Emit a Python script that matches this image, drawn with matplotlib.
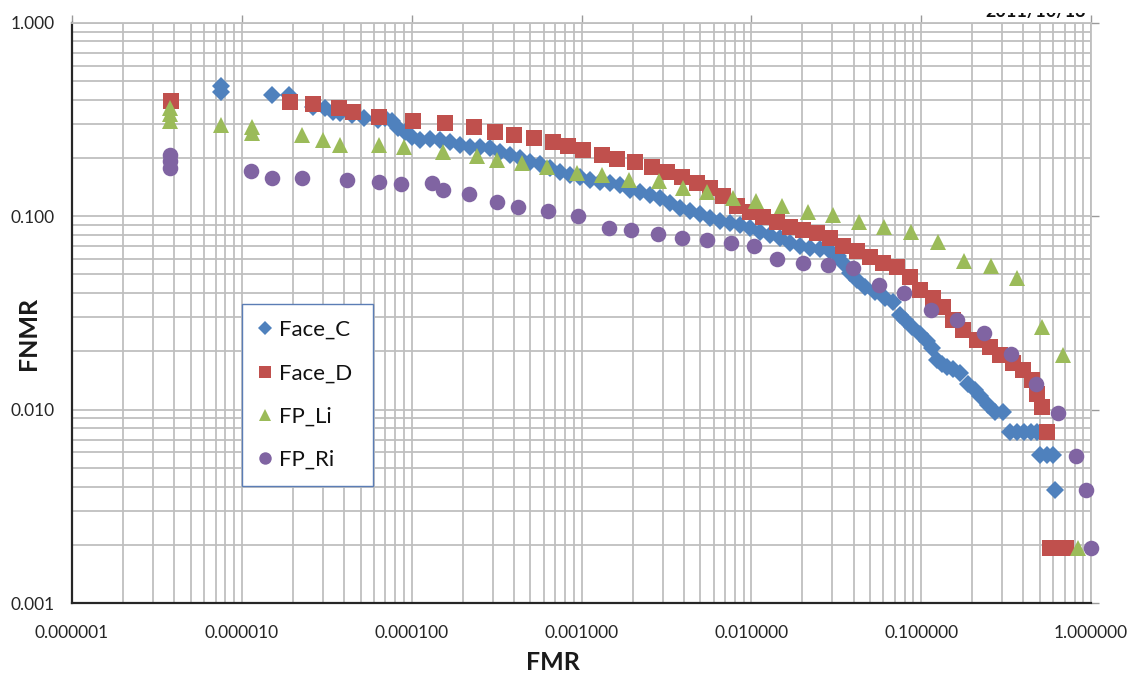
import matplotlib
matplotlib.use("Agg")
import matplotlib.pyplot as plt
from matplotlib.ticker import LogLocator, FixedLocator, FixedFormatter, NullFormatter
from matplotlib.patches import Rectangle

# ---------------- data ----------------
face_c_fmr = [7.54e-6, 7.54e-6, 1.51e-5, 1.90e-5, 2.63e-5, 3.09e-5, 3.44e-5, 3.79e-5, 4.46e-5, 5.25e-5,
              6.34e-5, 6.97e-5, 7.67e-5, 8.32e-5, 9.14e-5, 1.01e-4, 1.12e-4, 1.28e-4, 1.47e-4, 1.68e-4,
              1.93e-4, 2.21e-4, 2.53e-4, 2.89e-4, 3.32e-4, 3.80e-4, 4.35e-4, 4.98e-4, 5.70e-4, 6.53e-4,
              7.48e-4, 8.57e-4, 9.81e-4, 1.12e-3, 1.29e-3, 1.47e-3, 1.69e-3, 1.93e-3, 2.21e-3, 2.54e-3,
              2.90e-3, 3.33e-3, 3.81e-3, 4.36e-3, 4.99e-3, 5.72e-3, 6.55e-3, 7.50e-3, 8.59e-3, 9.84e-3,
              1.13e-2, 1.29e-2, 1.48e-2, 1.69e-2, 1.94e-2, 2.22e-2, 2.54e-2, 2.91e-2, 3.25e-2, 3.47e-2,
              3.82e-2, 4.20e-2, 4.68e-2, 5.36e-2, 6.14e-2, 6.84e-2, 7.52e-2, 8.05e-2, 8.85e-2, 9.86e-2,
              0.108, 0.116, 0.124, 0.133, 0.142, 0.154, 0.170, 0.189, 0.208, 0.223,
              0.248, 0.273, 0.304, 0.334, 0.367, 0.404, 0.444, 0.482, 0.502, 0.552, 0.599, 0.616]
face_c_fnmr = [0.470, 0.438, 0.423, 0.423, 0.366, 0.362, 0.345, 0.341, 0.333, 0.321,
               0.314, 0.321, 0.310, 0.285, 0.272, 0.256, 0.247, 0.250, 0.247, 0.241,
               0.233, 0.227, 0.227, 0.225, 0.214, 0.207, 0.1995, 0.190, 0.186, 0.177,
               0.169, 0.163, 0.159, 0.154, 0.150, 0.148, 0.145, 0.136, 0.133, 0.128,
               0.124, 0.117, 0.110, 0.106, 0.102, 0.0977, 0.0942, 0.0920, 0.0898, 0.0867,
               0.0827, 0.0797, 0.0769, 0.0725, 0.0700, 0.0683, 0.0675, 0.0659, 0.0621, 0.0571,
               0.0507, 0.0467, 0.0429, 0.0404, 0.0377, 0.0359, 0.0308, 0.0290, 0.0267, 0.0245,
               0.0226, 0.0208, 0.0180, 0.0172, 0.0166, 0.0162, 0.0154, 0.0135, 0.0126, 0.0117,
               0.0105, 0.00968, 0.00968, 0.00763, 0.00763, 0.00763, 0.00763, 0.00763,
               0.00580, 0.00580, 0.00580, 0.00382]

face_d_fmr = [3.83e-6, 1.92e-5, 2.62e-5, 3.73e-5, 4.52e-5, 6.43e-5, 1.02e-4, 1.57e-4, 2.33e-4, 3.10e-4,
              4.01e-4, 5.26e-4, 6.81e-4, 8.34e-4, 1.02e-3, 1.32e-3, 1.62e-3, 2.07e-3, 2.61e-3, 3.19e-3,
              3.91e-3, 4.80e-3, 5.71e-3, 6.82e-3, 8.24e-3, 9.84e-3, 1.17e-2, 1.42e-2, 1.69e-2, 2.02e-2,
              2.44e-2, 2.91e-2, 3.48e-2, 4.20e-2, 5.01e-2, 5.97e-2, 7.23e-2, 8.61e-2, 9.86e-2, 0.118,
              0.135, 0.154, 0.177, 0.214, 0.255, 0.292, 0.348, 0.399, 0.451, 0.482,
              0.516, 0.552, 0.575, 0.641, 0.715]
face_d_fnmr = [0.394, 0.389, 0.380, 0.362, 0.345, 0.325, 0.310, 0.303, 0.289, 0.272,
               0.262, 0.253, 0.241, 0.230, 0.219, 0.207, 0.197, 0.190, 0.179, 0.169,
               0.159, 0.148, 0.140, 0.127, 0.113, 0.105, 0.0989, 0.0931, 0.0877, 0.0847,
               0.0817, 0.0769, 0.0700, 0.0659, 0.0614, 0.0571, 0.0545, 0.0483, 0.0414, 0.0377,
               0.0338, 0.0290, 0.0257, 0.0228, 0.0210, 0.0191, 0.0174, 0.0160, 0.0142, 0.0121,
               0.0103, 0.00763, 0.00192, 0.00192, 0.00192]

fp_li_fmr = [3.8e-6, 3.8e-6, 3.8e-6, 7.54e-6, 1.15e-5, 1.15e-5, 2.26e-5, 3.01e-5, 3.78e-5, 6.43e-5,
             9.02e-5, 1.53e-4, 2.43e-4, 3.18e-4, 4.47e-4, 6.26e-4, 9.42e-4, 1.32e-3, 1.91e-3, 2.86e-3,
             3.96e-3, 5.50e-3, 7.82e-3, 1.07e-2, 1.52e-2, 2.16e-2, 3.03e-2, 4.32e-2, 6.05e-2, 8.73e-2,
             0.126, 0.179, 0.258, 0.367, 0.516, 0.685, 0.841]
fp_li_fnmr = [0.362, 0.337, 0.310, 0.296, 0.289, 0.269, 0.262, 0.247, 0.233, 0.233,
              0.227, 0.214, 0.204, 0.195, 0.188, 0.179, 0.167, 0.163, 0.154, 0.152,
              0.140, 0.133, 0.124, 0.120, 0.113, 0.105, 0.101, 0.0931, 0.0877, 0.0827,
              0.0733, 0.0585, 0.0551, 0.0478, 0.0267, 0.0191, 0.00192]

fp_ri_fmr = [3.8e-6, 3.8e-6, 3.8e-6, 1.13e-5, 1.51e-5, 2.26e-5, 4.17e-5, 6.43e-5, 8.67e-5, 1.32e-4,
             1.53e-4, 2.18e-4, 3.18e-4, 4.24e-4, 6.35e-4, 9.55e-4, 1.46e-3, 1.96e-3, 2.82e-3, 3.91e-3,
             5.50e-3, 7.60e-3, 1.03e-2, 1.42e-2, 2.02e-2, 2.83e-2, 3.98e-2, 5.66e-2, 7.94e-2, 0.115,
             0.163, 0.235, 0.339, 0.475, 0.641, 0.819, 0.938, 1.0]
fp_ri_fnmr = [0.207, 0.193, 0.177, 0.171, 0.157, 0.157, 0.154, 0.150, 0.146, 0.148,
              0.136, 0.130, 0.118, 0.111, 0.106, 0.100, 0.0867, 0.0847, 0.0807, 0.0769,
              0.0751, 0.0725, 0.0700, 0.0600, 0.0571, 0.0558, 0.0538, 0.0440, 0.0399, 0.0326,
              0.0290, 0.0248, 0.0193, 0.0135, 0.00957, 0.00573, 0.00382, 0.00192]

series_names = ["Face_C", "Face_D", "FP_Li", "FP_Ri"]
x_ticks = [1e-6, 1e-5, 1e-4, 1e-3, 1e-2, 1e-1, 1.0]
x_tick_labels = ["0.000001", "0.000010", "0.000100", "0.001000", "0.010000", "0.100000", "1.000000"]
y_ticks = [1e-3, 1e-2, 1e-1, 1.0]
y_tick_labels = ["0.001", "0.010", "0.100", "1.000"]
stamp_text = "2011/10/13"

# ---------------- styling ----------------
FONT = "Lato"
GRID = "#BFBFBF"
TXT = "#262626"

W, H = 1131, 677
fig = plt.figure(figsize=(W / 100, H / 100), dpi=100)
L, R, B, T = 72, 1091, 603, 22.7
ax = fig.add_axes([L / W, 1 - B / H, (R - L) / W, (B - T) / H])

ax.set_xscale("log")
ax.set_yscale("log")
ax.set_xlim(1e-6, 1.0)
ax.set_ylim(1e-3, 1.0)

styles = [
    dict(marker="D", color="#4F81BD", ms=9.5),
    dict(marker="s", color="#C0504D", ms=11.5),
    dict(marker="^", color="#9BBB59", ms=11.5),
    dict(marker="o", color="#8064A2", ms=11.2),
]
data = [(face_c_fmr, face_c_fnmr), (face_d_fmr, face_d_fnmr),
        (fp_li_fmr, fp_li_fnmr), (fp_ri_fmr, fp_ri_fnmr)]
for (xs, ys), name, st in zip(data, series_names, styles):
    ax.plot(xs, ys, linestyle="none", marker=st["marker"], ms=st["ms"],
            markerfacecolor=st["color"], markeredgewidth=0, label=name,
            clip_on=False, zorder=3)

# ticks & grid
ax.xaxis.set_major_locator(FixedLocator(x_ticks))
ax.xaxis.set_major_formatter(FixedFormatter(x_tick_labels))
ax.yaxis.set_major_locator(FixedLocator(y_ticks))
ax.yaxis.set_major_formatter(FixedFormatter(y_tick_labels))
ax.xaxis.set_minor_locator(LogLocator(base=10, subs=range(2, 10), numticks=20))
ax.yaxis.set_minor_locator(LogLocator(base=10, subs=range(2, 10), numticks=20))
ax.xaxis.set_minor_formatter(NullFormatter())
ax.yaxis.set_minor_formatter(NullFormatter())

ax.grid(True, which="both", color=GRID, linewidth=1.3, zorder=0)
ax.set_axisbelow(True)

ax.tick_params(which="both", bottom=False, left=False, top=False, right=False)
ax.tick_params(which="major", top=True, right=True, direction="out", length=6,
               color="#9a9a9a", width=1, labeltop=False, labelright=False)
ax.tick_params(axis="x", which="major", pad=9.5, labelsize=12.5, labelcolor=TXT)
ax.tick_params(axis="y", which="major", pad=6.5, labelsize=12.5, labelcolor=TXT)
for lab in ax.get_xticklabels() + ax.get_yticklabels():
    lab.set_fontfamily(FONT)

for side in ("left", "bottom"):
    ax.spines[side].set_color("#262626")
    ax.spines[side].set_linewidth(1.6)
    ax.spines[side].set_zorder(2.5)
for side in ("top", "right"):
    ax.spines[side].set_color(GRID)
    ax.spines[side].set_linewidth(1.3)

# axis titles
fig.text(553 / W, 1 - 663 / H, "FMR", ha="center", va="center",
         fontsize=18, fontweight="bold", family=FONT, color="#1a1a1a")
fig.text(28 / W, 1 - 333 / H, "FNMR", ha="center", va="center", rotation=90,
         fontsize=18, fontweight="bold", family=FONT, color="#1a1a1a")

# legend
lx0 = (242 - L) / (R - L)
lx1 = (373 - L) / (R - L)
ly1 = (B - 304) / (B - T)
ly0 = (B - 487) / (B - T)
leg = ax.legend(loc="upper left", bbox_to_anchor=(lx0, ly0, lx1 - lx0, ly1 - ly0),
                mode="expand", borderaxespad=0, frameon=True, fancybox=False,
                prop={"family": FONT, "size": 16}, labelspacing=1.05, borderpad=0.72,
                handlelength=0.6, handletextpad=0.35, markerscale=0.8, framealpha=1)
leg.get_frame().set_edgecolor("#5B7DB5")
leg.get_frame().set_linewidth(1.0)
for t in leg.get_texts():
    t.set_color("#111111")

# date stamp at the top-right, only its lower part is visible in the reference
fig.text(985 / W, 1 - 17 / H, stamp_text, ha="left", va="baseline",
         fontsize=13, fontweight="bold", family=FONT, color="#111111", zorder=5)
fig.add_artist(Rectangle((975 / W, 1 - 12.5 / H), 110 / W, 12.5 / H,
                         transform=fig.transFigure, facecolor="white",
                         edgecolor="none", zorder=10))

fig.savefig("out.png", dpi=100)
